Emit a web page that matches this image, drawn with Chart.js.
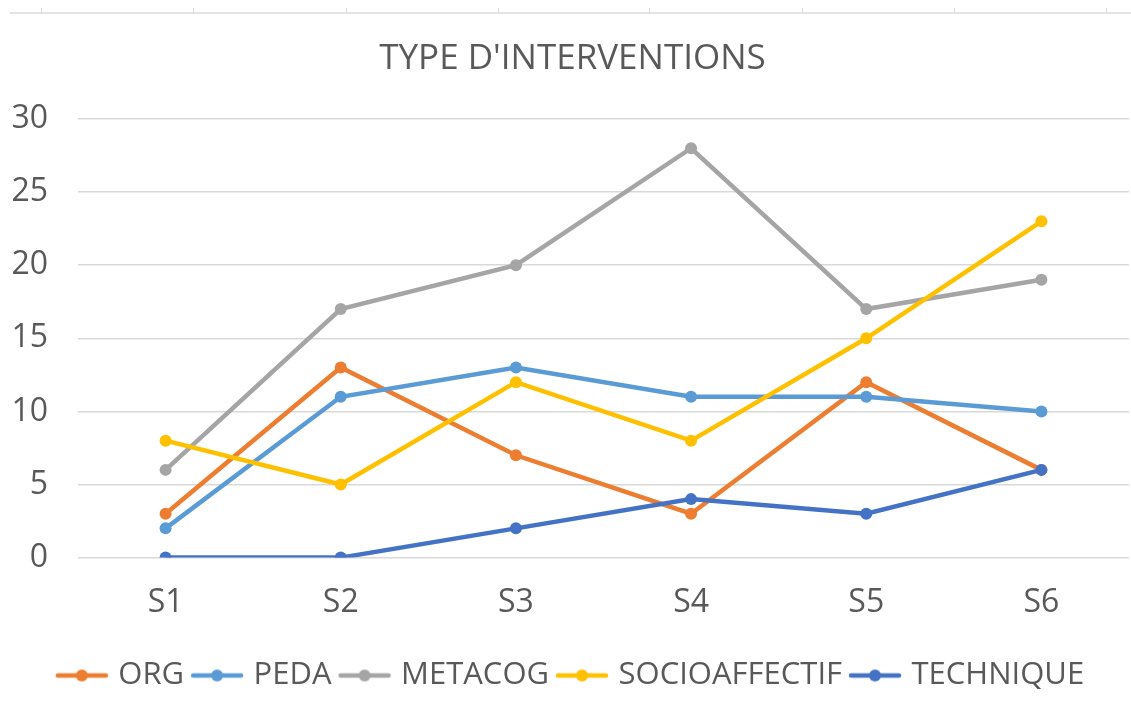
<!DOCTYPE html>
<html>
<head>
<meta charset="utf-8">
<script src="https://cdn.jsdelivr.net/npm/chart.js@4/dist/chart.umd.min.js"></script>
<style>
  html, body { margin: 0; padding: 0; background: #fff; overflow: hidden; }
  #wrap { position: relative; width: 1135px; height: 711px; }
  #topline { position: absolute; left: 10px; right: 0; top: 12px; height: 2px; background: #e3e3e3; }
  .tick { position: absolute; top: 8px; width: 1px; height: 5px; background: #d6d6d6; }
</style>
</head>
<body>
<div id="wrap">
  <div id="topline"></div>
  <canvas id="chart" width="1135" height="711"></canvas>
</div>
<script>
// Dati del grafico
const categorie = ["S1", "S2", "S3", "S4", "S5", "S6"];
const nomiSerie = ["ORG", "PEDA", "METACOG", "SOCIOAFFECTIF", "TECHNIQUE"];
const org = [3, 13, 7, 3, 12, 6];
const peda = [2, 11, 13, 11, 11, 10];
const metacog = [6, 17, 20, 28, 17, 19];
const socioaffectif = [8, 5, 12, 8, 15, 23];
const technique = [0, 0, 2, 4, 3, 6];
const colori = ["#ED7D31", "#5B9BD5", "#A5A5A5", "#FFC000", "#4472C4"];
const yTicks = [0, 5, 10, 15, 20, 25, 30];

// Residuo dell'asse in alto (decorazione)
const wrap = document.getElementById("wrap");
[41, 193, 346, 498, 649, 802, 954, 1106].forEach(function (x) {
  const t = document.createElement("div");
  t.className = "tick";
  t.style.left = x + "px";
  wrap.appendChild(t);
});

// Icona della legenda: linea con punto
function iconaLegenda(colore) {
  const c = document.createElement("canvas");
  c.width = 54;
  c.height = 14;
  const ctx = c.getContext("2d");
  ctx.strokeStyle = colore;
  ctx.lineWidth = 4.5;
  ctx.lineCap = "round";
  ctx.beginPath();
  ctx.moveTo(3, 7);
  ctx.lineTo(51, 7);
  ctx.stroke();
  ctx.fillStyle = colore;
  ctx.beginPath();
  ctx.arc(27, 7, 6, 0, Math.PI * 2);
  ctx.fill();
  return c;
}

const valori = [org, peda, metacog, socioaffectif, technique];
const datasets = nomiSerie.map(function (nome, i) {
  return {
    label: nome,
    data: valori[i],
    borderColor: colori[i],
    backgroundColor: colori[i],
    pointBackgroundColor: colori[i],
    pointBorderColor: colori[i],
    borderWidth: 4.5,
    pointRadius: 6,
    pointBorderWidth: 0,
    tension: 0,
    order: nomiSerie.length - i,
    pointStyle: "circle",
  };
});
const icone = colori.map(iconaLegenda);

const testo = "#595959";
const font = "'Open Sans', 'DejaVu Sans', sans-serif";

new Chart(document.getElementById("chart").getContext("2d"), {
  type: "line",
  data: { labels: categorie, datasets: datasets },
  options: {
    responsive: false,
    animation: false,
    layout: { padding: { left: 10, right: 0, top: 0, bottom: 10 } },
    plugins: {
      title: {
        display: true,
        text: "TYPE D'INTERVENTIONS",
        color: testo,
        font: { family: font, size: 35, weight: "normal" },
        padding: { top: 38, bottom: 39 },
      },
      legend: {
        position: "bottom",
        labels: {
          color: testo,
          font: { family: font, size: 31 },
          usePointStyle: true,
          pointStyleWidth: 42,
          boxHeight: 14,
          padding: 12,
          sort: function (a, b) { return a.datasetIndex - b.datasetIndex; },
          generateLabels: function (chart) {
            return chart.data.datasets.map(function (ds, i) {
              return {
                text: ds.label,
                fillStyle: colori[i],
                strokeStyle: colori[i],
                lineWidth: 0,
                pointStyle: icone[i],
                fontColor: testo,
                hidden: !chart.isDatasetVisible(i),
                datasetIndex: i,
              };
            });
          },
        },
      },
      tooltip: { enabled: false },
    },
    scales: {
      x: {
        offset: true,
        grid: { display: false, drawTicks: false, offset: true },
        border: { display: false },
        ticks: {
          color: testo,
          font: { family: font, size: 32 },
          padding: 26,
        },
      },
      y: {
        min: 0,
        max: 30,
        afterBuildTicks: function (scale) {
          scale.ticks = yTicks.map(function (v) { return { value: v }; });
        },
        afterFit: function (scale) {
          scale.width = 68;
        },
        grid: { color: "#D9D9D9", lineWidth: 1.5, drawTicks: false },
        border: { display: false },
        ticks: {
          color: testo,
          font: { family: font, size: 32 },
          padding: 30,
        },
      },
    },
  },
});
</script>
</body>
</html>
